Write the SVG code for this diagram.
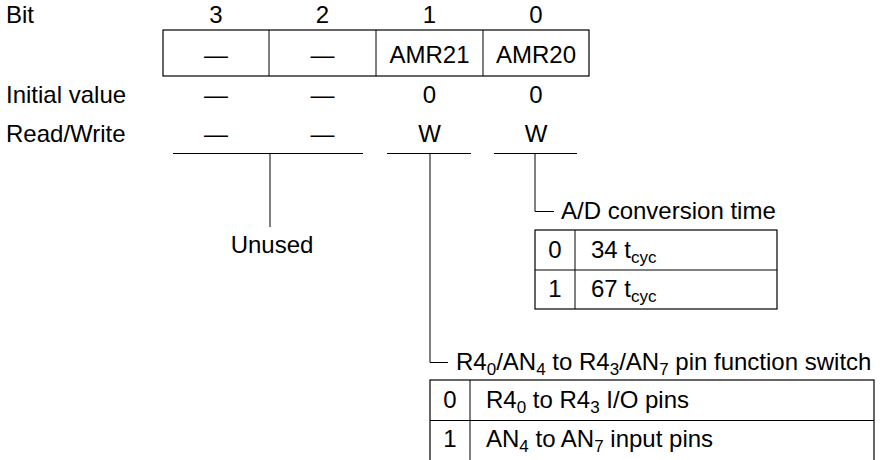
<svg xmlns="http://www.w3.org/2000/svg" width="882" height="460" viewBox="0 0 882 460">
<style>
text{font-family:"Liberation Sans",Arial,sans-serif;font-size:24px;fill:#000}
.c{text-anchor:middle}
.s{font-size:17px}
.box{fill:#fff;stroke:#000;stroke-width:1.2}
.ln{stroke:#000;stroke-width:1;fill:none}
</style>
<rect width="882" height="460" fill="#fff"/>
<g id="labels">
<text x="6" y="23">Bit</text>
<text x="6" y="103">Initial value</text>
<text x="6" y="142">Read/Write</text>
</g>
<g id="bits">
<text class="c" x="216" y="23">3</text>
<text class="c" x="322.5" y="23">2</text>
<text class="c" x="429.5" y="23">1</text>
<text class="c" x="536" y="23">0</text>
</g>
<g id="register">
<rect class="box" x="163" y="30" width="426" height="46"/>
<line class="ln" x1="269" y1="30" x2="269" y2="76"/>
<line class="ln" x1="376" y1="30" x2="376" y2="76"/>
<line class="ln" x1="483" y1="30" x2="483" y2="76"/>
<text class="c" x="216" y="63">—</text>
<text class="c" x="322.5" y="63">—</text>
<text class="c" x="429.5" y="63">AMR21</text>
<text class="c" x="536" y="63">AMR20</text>
</g>
<g id="initial">
<text class="c" x="216" y="103">—</text>
<text class="c" x="322.5" y="103">—</text>
<text class="c" x="429.5" y="103">0</text>
<text class="c" x="536" y="103">0</text>
</g>
<g id="rw">
<text class="c" x="216" y="142">—</text>
<text class="c" x="322.5" y="142">—</text>
<text class="c" x="429.5" y="142">W</text>
<text class="c" x="536" y="142">W</text>
</g>
<g id="connectors">
<line class="ln" x1="173" y1="153.5" x2="363" y2="153.5"/>
<line class="ln" x1="387" y1="153.5" x2="471" y2="153.5"/>
<line class="ln" x1="494" y1="153.5" x2="577" y2="153.5"/>
<line class="ln" x1="270" y1="153.5" x2="270" y2="227"/>
<polyline class="ln" points="535,153.5 535,211.5 554,211.5"/>
<polyline class="ln" points="430,153.5 430,362.5 448,362.5"/>
</g>
<g id="unused">
<text class="c" x="272" y="253">Unused</text>
</g>
<g id="ad-conversion">
<text x="561" y="219">A/D conversion time</text>
<rect class="box" x="535" y="230" width="242" height="79"/>
<line class="ln" x1="575" y1="230" x2="575" y2="309"/>
<line class="ln" x1="535" y1="270" x2="777" y2="270"/>
<text class="c" x="555" y="258">0</text>
<text x="591" y="258">34 t<tspan class="s" dy="5">cyc</tspan></text>
<text class="c" x="555" y="297">1</text>
<text x="591" y="297">67 t<tspan class="s" dy="5">cyc</tspan></text>
</g>
<g id="pin-function">
<text x="456" y="370">R4<tspan class="s" dy="5">0</tspan><tspan dy="-5">/AN</tspan><tspan class="s" dy="5">4</tspan><tspan dy="-5"> to R4</tspan><tspan class="s" dy="5">3</tspan><tspan dy="-5">/AN</tspan><tspan class="s" dy="5">7</tspan><tspan dy="-5"> pin function switch</tspan></text>
<rect class="box" x="430" y="380" width="444" height="82"/>
<line class="ln" x1="470" y1="380" x2="470" y2="462"/>
<line class="ln" x1="430" y1="420.5" x2="874" y2="420.5"/>
<text class="c" x="450" y="408">0</text>
<text x="486" y="408">R4<tspan class="s" dy="5">0</tspan><tspan dy="-5"> to R4</tspan><tspan class="s" dy="5">3</tspan><tspan dy="-5"> I/O pins</tspan></text>
<text class="c" x="450" y="447">1</text>
<text x="486" y="447">AN<tspan class="s" dy="5">4</tspan><tspan dy="-5"> to AN</tspan><tspan class="s" dy="5">7</tspan><tspan dy="-5"> input pins</tspan></text>
</g>
</svg>
